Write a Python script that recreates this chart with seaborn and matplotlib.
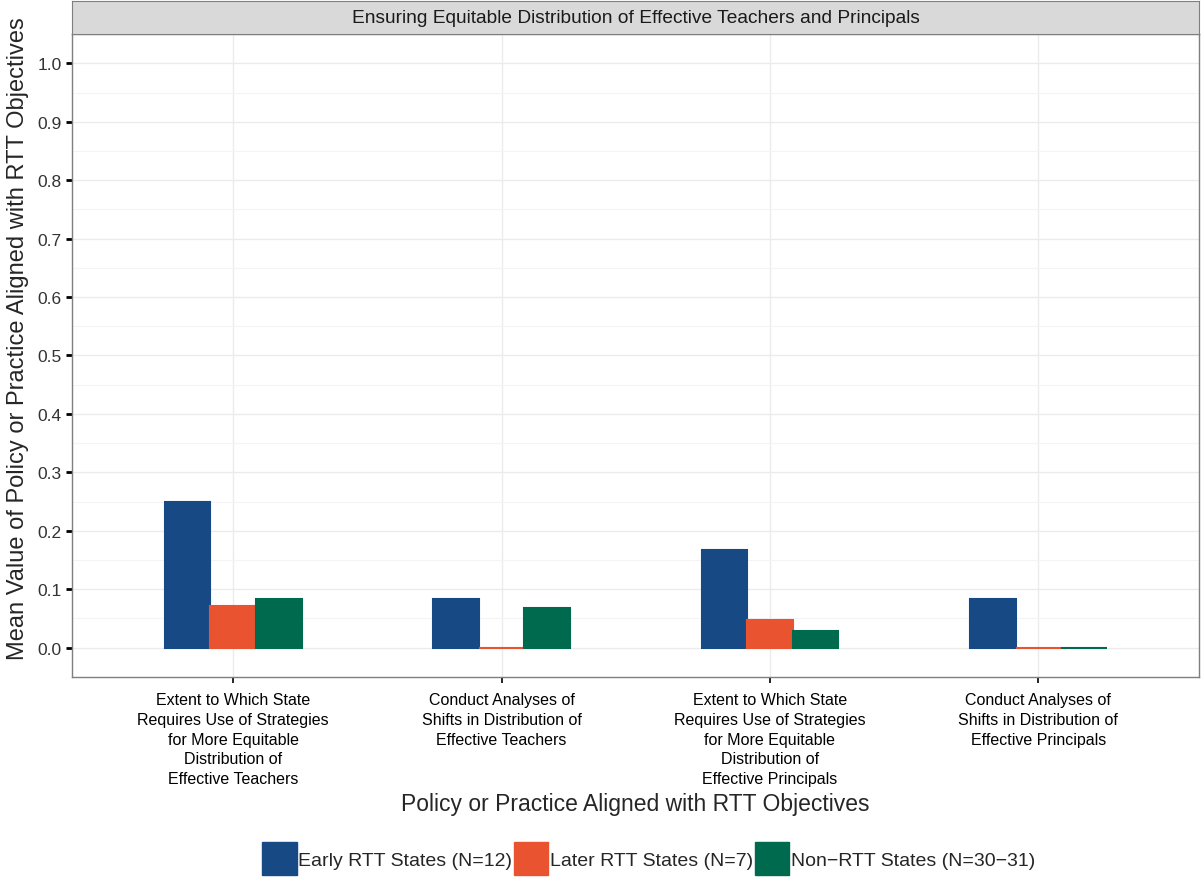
#Grouped bar chart: equitable distribution of effective teachers and principals
import pandas as pd
import matplotlib
matplotlib.use("Agg")
import matplotlib.pyplot as plt
import matplotlib.patches as mpatches
import seaborn as sns

# === Data ===
practices = [
    "Extent to Which State\nRequires Use of Strategies\nfor More Equitable\nDistribution of\nEffective Teachers",
    "Conduct Analyses of\nShifts in Distribution of\nEffective Teachers",
    "Extent to Which State\nRequires Use of Strategies\nfor More Equitable\nDistribution of\nEffective Principals",
    "Conduct Analyses of\nShifts in Distribution of\nEffective Principals",
]
groups = ["Early RTT States (N=12)", "Later RTT States (N=7)", "Non\u2212RTT States (N=30\u221231)"]
early_vals = [0.250, 0.083, 0.167, 0.083]
later_vals = [0.071, 0.0, 0.048, 0.0]
non_vals = [0.083, 0.067, 0.029, 0.0]
colors = ["#174A85", "#E9532F", "#006A4E"]
y_ticks = [0.0, 0.1, 0.2, 0.3, 0.4, 0.5, 0.6, 0.7, 0.8, 0.9, 1.0]

rows = []
for g, vals in zip(groups, [early_vals, later_vals, non_vals]):
    for p, v in zip(practices, vals):
        rows.append({"practice": p, "group": g, "value": v})
df = pd.DataFrame(rows)

sns.set_style("white")
plt.rcParams['font.family'] = ['Liberation Sans', 'DejaVu Sans']

fig = plt.figure(figsize=(12.02, 8.78), dpi=100)
ax = fig.add_axes([0.0599, 0.228, 0.938, 0.732])

sns.barplot(data=df, x="practice", y="value", hue="group", palette=colors, saturation=1,
            width=0.51, ax=ax, legend=False, errorbar=None, order=practices, hue_order=groups)
# zero bars show as a thin line, like ggplot's outline
for bars, c in zip(ax.containers, colors):
    for b in bars:
        b.set_edgecolor(c)
        b.set_linewidth(1.5)

ax.set_xlim(-0.6, 3.6)
ax.set_ylim(-0.05, 1.05)
ax.set_yticks(y_ticks)
ax.set_yticklabels([f"{t:.1f}" for t in y_ticks], fontsize=12.5, color="#333333")
ax.set_yticks([0.05 + 0.1 * i for i in range(10)] + [-0.05], minor=True)
ax.tick_params(axis="x", labelsize=11.5, length=4, width=1.2, color="black", direction="out",
               bottom=True, labelcolor="black", pad=7)
for lbl in ax.get_xticklabels():
    lbl.set_linespacing(1.4)
ax.tick_params(axis="y", which="major", length=4, width=2, color="black", direction="out", left=True)
ax.tick_params(axis="y", which="minor", length=0)
ax.grid(True, which="major", color="#ebebeb", linewidth=1)
ax.grid(True, which="minor", axis="y", color="#f4f4f4", linewidth=0.8)
ax.set_axisbelow(True)
for s in ax.spines.values():
    s.set_color("#7f7f7f")
    s.set_linewidth(1.0)

ax.set_xlabel("Policy or Practice Aligned with RTT Objectives", fontsize=16.5, labelpad=4)
ax.set_ylabel("Mean Value of Policy or Practice Aligned with RTT Objectives", fontsize=17)
ax.yaxis.set_label_coords(-0.038, 0.527)  # centred on panel + strip, like ggplot facets

# facet strip on top
strip = fig.add_axes([0.0599, 0.960, 0.938, 0.038])
strip.set_facecolor("#d9d9d9")
strip.set_xticks([])
strip.set_yticks([])
for s in strip.spines.values():
    s.set_color("#7f7f7f")
strip.text(0.5, 0.5, "Ensuring Equitable Distribution of Effective Teachers and Principals",
           ha="center", va="center", fontsize=13.8, color="#1a1a1a", transform=strip.transAxes)

handles = [mpatches.Patch(facecolor=c, edgecolor=c, label=g) for c, g in zip(colors, groups)]
fig.legend(handles=handles, loc="center", bbox_to_anchor=(0.54, 0.021), ncol=3, frameon=False,
           fontsize=14, handlelength=1.75, handleheight=2.3, handletextpad=0.1, columnspacing=0.1)

fig.savefig("out.png", dpi=100)
